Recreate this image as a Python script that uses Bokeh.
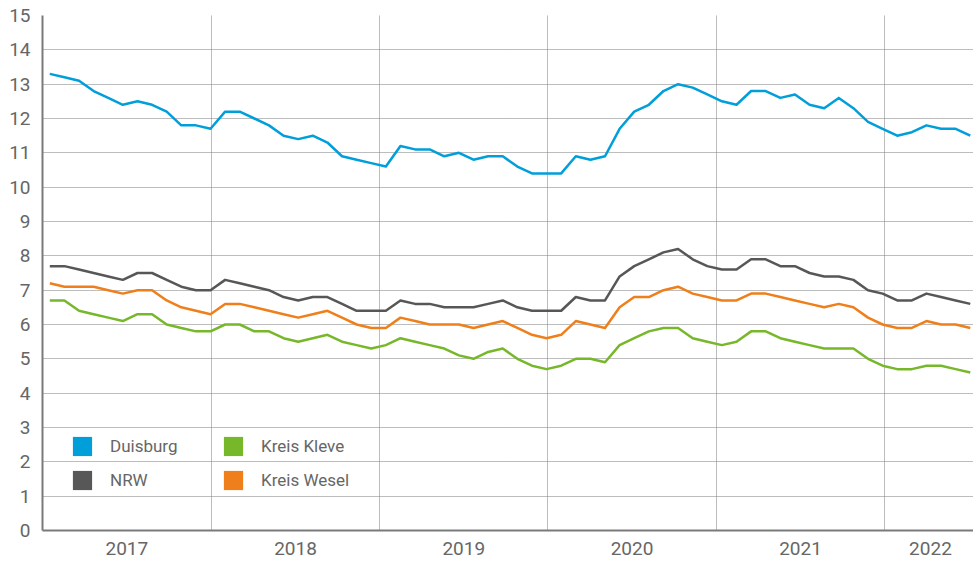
import numpy as np
from bokeh.plotting import figure
from bokeh.models import (ColumnDataSource, Range1d, FixedTicker, Legend, LegendItem)
from bokeh.embed import file_html
from bokeh.resources import INLINE

# ---------------- data ----------------
series_names = ["Duisburg", "NRW", "Kreis Kleve", "Kreis Wesel"]

duisburg = [13.3, 13.2, 13.1, 12.8, 12.6, 12.4, 12.5, 12.4, 12.2, 11.8, 11.8, 11.7,
            12.2, 12.2, 12.0, 11.8, 11.5, 11.4, 11.5, 11.3, 10.9, 10.8, 10.7, 10.6,
            11.2, 11.1, 11.1, 10.9, 11.0, 10.8, 10.9, 10.9, 10.6, 10.4, 10.4, 10.4,
            10.9, 10.8, 10.9, 11.7, 12.2, 12.4, 12.8, 13.0, 12.9, 12.7, 12.5, 12.4,
            12.8, 12.8, 12.6, 12.7, 12.4, 12.3, 12.6, 12.3, 11.9, 11.7, 11.5, 11.6,
            11.8, 11.7, 11.7, 11.5]

nrw = [7.7, 7.7, 7.6, 7.5, 7.4, 7.3, 7.5, 7.5, 7.3, 7.1, 7.0, 7.0,
       7.3, 7.2, 7.1, 7.0, 6.8, 6.7, 6.8, 6.8, 6.6, 6.4, 6.4, 6.4,
       6.7, 6.6, 6.6, 6.5, 6.5, 6.5, 6.6, 6.7, 6.5, 6.4, 6.4, 6.4,
       6.8, 6.7, 6.7, 7.4, 7.7, 7.9, 8.1, 8.2, 7.9, 7.7, 7.6, 7.6,
       7.9, 7.9, 7.7, 7.7, 7.5, 7.4, 7.4, 7.3, 7.0, 6.9, 6.7, 6.7,
       6.9, 6.8, 6.7, 6.6]

kleve = [6.7, 6.7, 6.4, 6.3, 6.2, 6.1, 6.3, 6.3, 6.0, 5.9, 5.8, 5.8,
         6.0, 6.0, 5.8, 5.8, 5.6, 5.5, 5.6, 5.7, 5.5, 5.4, 5.3, 5.4,
         5.6, 5.5, 5.4, 5.3, 5.1, 5.0, 5.2, 5.3, 5.0, 4.8, 4.7, 4.8,
         5.0, 5.0, 4.9, 5.4, 5.6, 5.8, 5.9, 5.9, 5.6, 5.5, 5.4, 5.5,
         5.8, 5.8, 5.6, 5.5, 5.4, 5.3, 5.3, 5.3, 5.0, 4.8, 4.7, 4.7,
         4.8, 4.8, 4.7, 4.6]

wesel = [7.2, 7.1, 7.1, 7.1, 7.0, 6.9, 7.0, 7.0, 6.7, 6.5, 6.4, 6.3,
         6.6, 6.6, 6.5, 6.4, 6.3, 6.2, 6.3, 6.4, 6.2, 6.0, 5.9, 5.9,
         6.2, 6.1, 6.0, 6.0, 6.0, 5.9, 6.0, 6.1, 5.9, 5.7, 5.6, 5.7,
         6.1, 6.0, 5.9, 6.5, 6.8, 6.8, 7.0, 7.1, 6.9, 6.8, 6.7, 6.7,
         6.9, 6.9, 6.8, 6.7, 6.6, 6.5, 6.6, 6.5, 6.2, 6.0, 5.9, 5.9,
         6.1, 6.0, 6.0, 5.9]

years = ["2017", "2018", "2019", "2020", "2021", "2022"]
# year boundaries on the observation-index scale (as drawn in the reference)
year_edges = [-0.5, 11.05, 22.58, 34.09, 45.61, 57.15, 63.4]
y_ticks = list(range(0, 16))

colors = {"Duisburg": "#009FDA", "NRW": "#575757",
          "Kreis Kleve": "#77B82A", "Kreis Wesel": "#EF7F1A"}

# ---------------- figure ----------------
x = np.arange(len(duisburg))
TXT = "#666666"
FONT = "Roboto"

p = figure(width=973, height=564, output_backend="svg", toolbar_location=None,
           x_range=Range1d(-0.5, 63.22), y_range=Range1d(0, 15),
           min_border_left=42, min_border_right=0, min_border_top=15,
           min_border_bottom=34)
p.outline_line_color = None
p.background_fill_color = "white"
p.border_fill_color = "white"

# grids
for g, ticks in ((p.ygrid, y_ticks), (p.xgrid, year_edges[1:-1])):
    g.ticker = FixedTicker(ticks=ticks)
    g.grid_line_color = "#7a7a7a"
    g.grid_line_dash = "1 1"
    g.grid_line_width = 1

# axes
mids = [(year_edges[i] + year_edges[i + 1]) / 2 for i in range(len(years))]
p.xaxis.ticker = FixedTicker(ticks=mids)
p.xaxis.major_label_overrides = {m: y for m, y in zip(mids, years)}
p.yaxis.ticker = FixedTicker(ticks=y_ticks)
for ax in (p.xaxis, p.yaxis):
    ax.axis_line_color = "#7a7a7a"
    ax.axis_line_width = 2
    ax.major_tick_line_color = None
    ax.minor_tick_line_color = None
    ax.major_tick_out = 0
    ax.major_tick_in = 0
    ax.major_label_text_color = TXT
    ax.major_label_text_font = FONT
    ax.major_label_text_font_size = "19px"
p.yaxis.major_label_standoff = 12
p.xaxis.major_label_standoff = 11

# lines
data = {"Duisburg": duisburg, "NRW": nrw, "Kreis Kleve": kleve, "Kreis Wesel": wesel}
for name in ["Kreis Kleve", "Kreis Wesel", "NRW", "Duisburg"]:
    src = ColumnDataSource(dict(x=x, y=data[name]))
    p.line("x", "y", source=src, line_color=colors[name], line_width=2.5,
           line_join="round")

# legend swatches (renderers used only for the legend)
swatch = {}
for name in series_names:
    swatch[name] = p.quad(left=[np.nan], right=[np.nan], top=[np.nan], bottom=[np.nan],
                          fill_color=colors[name], line_color=None)

def make_legend(names, loc):
    lg = Legend(items=[LegendItem(label=n, renderers=[swatch[n]]) for n in names],
                location=loc, orientation="vertical",
                glyph_width=24, glyph_height=24, label_height=24,
                label_standoff=16, spacing=10, padding=0, margin=0,
                border_line_color=None, background_fill_alpha=0,
                label_text_font=FONT, label_text_font_size="17px",
                label_text_color=TXT)
    p.add_layout(lg, "center")

make_legend(["Duisburg", "NRW"], (28, 38))
make_legend(["Kreis Kleve", "Kreis Wesel"], (179, 38))

open("out.html", "w").write(file_html(p, INLINE))
